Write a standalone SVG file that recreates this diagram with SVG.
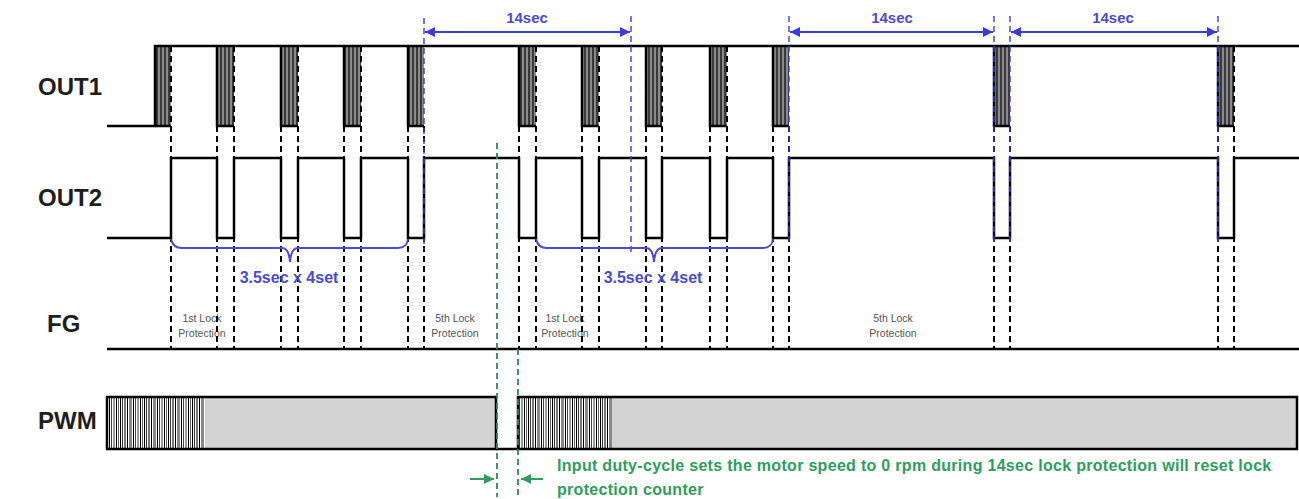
<svg xmlns="http://www.w3.org/2000/svg" width="1299" height="499" viewBox="0 0 1299 499">
<style>
.lbl{font-family:"Liberation Sans",Arial,sans-serif;font-weight:bold;font-size:24px;fill:#1e1e1e}
.blue{font-family:"Liberation Sans",Arial,sans-serif;font-weight:bold;font-size:15px;fill:#4b4bd2}
.br{font-family:"Liberation Sans",Arial,sans-serif;font-weight:bold;font-size:16px;fill:#4b4bd2}
.small{font-family:"Liberation Sans",Arial,sans-serif;font-size:10.5px;fill:#555}
.green{font-family:"Liberation Sans",Arial,sans-serif;font-weight:bold;font-size:16px;letter-spacing:0.3px;fill:#2e9e5c}
.wave{fill:none;stroke:#000;stroke-width:2.5}
.dash{stroke:#000;stroke-width:2;stroke-dasharray:6,4;fill:none}
.bdash{stroke:#3b3bdd;stroke-width:1.4;stroke-dasharray:6,4;fill:none}
.gdash{stroke:#2a8a5a;stroke-width:1.8;stroke-dasharray:6,4;fill:none}
.barrow{stroke:#3b3bdd;stroke-width:2;fill:none}
.garrow{stroke:#2e9e5c;stroke-width:2;fill:none}
.brace{stroke:#4b4bd2;stroke-width:2;fill:none}
.pulse{fill:url(#stripe);stroke:none}
</style>
<defs>
<pattern id="stripe" patternUnits="userSpaceOnUse" width="4" height="10">
<rect width="4" height="10" fill="#8a8a8a"/>
<rect width="2" height="10" fill="#3a3a3a"/>
</pattern>
<pattern id="pwm" patternUnits="userSpaceOnUse" width="24" height="60" y="397">
<rect width="24" height="60" fill="#fff"/>
<rect x="0" width="1" height="60" fill="#000"/>
<rect x="2" width="1" height="60" fill="#333"/>
<rect x="4" width="2" height="60" fill="#777"/>
<rect x="7" width="1" height="60" fill="#000"/>
<rect x="9" width="3" height="60" fill="#888"/>
<rect x="13" width="1" height="60" fill="#000"/>
<rect x="15" width="1" height="60" fill="#444"/>
<rect x="17" width="2" height="60" fill="#999"/>
<rect x="20" width="1" height="60" fill="#000"/>
<rect x="22" width="1" height="60" fill="#666"/>
</pattern>
<marker id="bah" viewBox="0 0 10 10" refX="10" refY="5" markerWidth="5" markerHeight="5" orient="auto-start-reverse">
<path d="M0,0 L10,5 L0,10 z" fill="#3b3bdd"/>
</marker>
<marker id="gah" viewBox="0 0 10 10" refX="10" refY="5" markerWidth="5" markerHeight="5" orient="auto">
<path d="M0,0 L10,5 L0,10 z" fill="#2e9e5c"/>
</marker>
</defs>
<rect width="1299" height="499" fill="#fff"/>

<g id="labels">
<text class="lbl" x="38" y="95">OUT1</text>
<text class="lbl" x="38" y="206">OUT2</text>
<text class="lbl" x="47" y="332">FG</text>
<text class="lbl" x="38" y="429">PWM</text>
</g>

<g id="out1">
<rect class="pulse" x="155" y="46" width="16" height="80"/>
<rect class="pulse" x="217" y="46" width="17" height="80"/>
<rect class="pulse" x="281" y="46" width="17" height="80"/>
<rect class="pulse" x="344" y="46" width="17" height="80"/>
<rect class="pulse" x="408" y="46" width="16" height="80"/>
<rect class="pulse" x="519" y="46" width="17" height="80"/>
<rect class="pulse" x="582" y="46" width="17" height="80"/>
<rect class="pulse" x="646" y="46" width="16" height="80"/>
<rect class="pulse" x="710" y="46" width="17" height="80"/>
<rect class="pulse" x="773" y="46" width="16" height="80"/>
<rect class="pulse" x="994" y="46" width="16" height="80"/>
<rect class="pulse" x="1218" y="46" width="16" height="80"/>
<path class="wave" d="M107,126 H155 V46 H1299"/>
<path class="wave" stroke-width="2" d="M155,126 H171 M217,46 V126 H234 M281,46 V126 H298 M344,46 V126 H361 M408,46 V126 H424 M519,46 V126 H536 M582,46 V126 H599 M646,46 V126 H662 M710,46 V126 H727 M773,46 V126 H789 M994,46 V126 H1010 M1218,46 V126 H1234"/>
</g>

<g id="out2">
<path class="wave" d="M107,238 H171 V158 H217 V238 H234 V158 H281 V238 H298 V158 H344 V238 H361 V158 H408 V238 H424 V158 H519 V238 H536 V158 H582 V238 H599 V158 H646 V238 H662 V158 H710 V238 H727 V158 H773 V238 H789 V158 H994 V238 H1010 V158 H1218 V238 H1234 V158 H1299"/>
</g>

<g id="fg">
<path class="wave" d="M107,349 H1299"/>
<text class="small" x="202" y="322" text-anchor="middle">1st Lock</text>
<text class="small" x="202" y="337" text-anchor="middle">Protection</text>
<text class="small" x="455" y="322" text-anchor="middle">5th Lock</text>
<text class="small" x="455" y="337" text-anchor="middle">Protection</text>
<text class="small" x="565" y="322" text-anchor="middle">1st Lock</text>
<text class="small" x="565" y="337" text-anchor="middle">Protection</text>
<text class="small" x="893" y="322" text-anchor="middle">5th Lock</text>
<text class="small" x="893" y="337" text-anchor="middle">Protection</text>
</g>

<g id="pwm-signal">
<rect x="107" y="397" width="98" height="52" fill="url(#pwm)"/>
<rect x="205" y="397" width="291" height="52" fill="#d3d3d3"/>
<rect x="518" y="397" width="94" height="52" fill="url(#pwm)"/>
<rect x="612" y="397" width="685" height="52" fill="#d3d3d3"/>
<path class="wave" d="M107,397 H496 V449 H107 Z"/>
<path class="wave" d="M496,449 H518"/>
<path class="wave" d="M518,449 V397 H1297 V449 H518"/>
</g>

<g id="connectors">
<path class="dash" d="M171,46 V349 M217,46 V349 M234,46 V349 M281,46 V349 M298,46 V349 M344,46 V349 M361,46 V349 M408,46 V349 M424,126 V349 M519,46 V349 M536,46 V349 M582,46 V349 M599,46 V349 M646,46 V349 M662,46 V349 M710,46 V349 M727,46 V349 M773,46 V349 M789,126 V349 M994,126 V349 M1010,126 V349 M1218,126 V349 M1234,46 V349"/>
<path class="bdash" d="M424,18 V250 M631,16 V252 M789,16 V245 M994,16 V245 M1010,16 V245 M1218,16 V245"/>
<path class="barrow" marker-start="url(#bah)" marker-end="url(#bah)" d="M425,32 H630"/>
<path class="barrow" marker-start="url(#bah)" marker-end="url(#bah)" d="M790,32 H993"/>
<path class="barrow" marker-start="url(#bah)" marker-end="url(#bah)" d="M1011,32 H1217"/>
<path class="brace" d="M171,239 Q173,248 182,248 H282 Q289,248 290,262 Q291,248 298,248 H398 Q407,248 408,239"/>
<path class="brace" d="M536,239 Q538,248 547,248 H646 Q653,248 654,262 Q655,248 662,248 H763 Q772,248 773,239"/>
<path class="gdash" d="M497,143 V497 M518,349 V497"/>
<path class="garrow" marker-end="url(#gah)" d="M470,479 H494"/>
<path class="garrow" marker-end="url(#gah)" d="M543,479 H521"/>
</g>

<g id="annotations">
<text class="blue" x="527" y="23" text-anchor="middle">14sec</text>
<text class="blue" x="892" y="23" text-anchor="middle">14sec</text>
<text class="blue" x="1113" y="23" text-anchor="middle">14sec</text>
<text class="br" x="289" y="283" text-anchor="middle">3.5sec x 4set</text>
<text class="br" x="653" y="283" text-anchor="middle">3.5sec x 4set</text>
<text class="green" x="557" y="471">Input duty-cycle sets the motor speed to 0 rpm during 14sec lock protection will reset lock</text>
<text class="green" x="557" y="495">protection counter</text>
</g>
</svg>
